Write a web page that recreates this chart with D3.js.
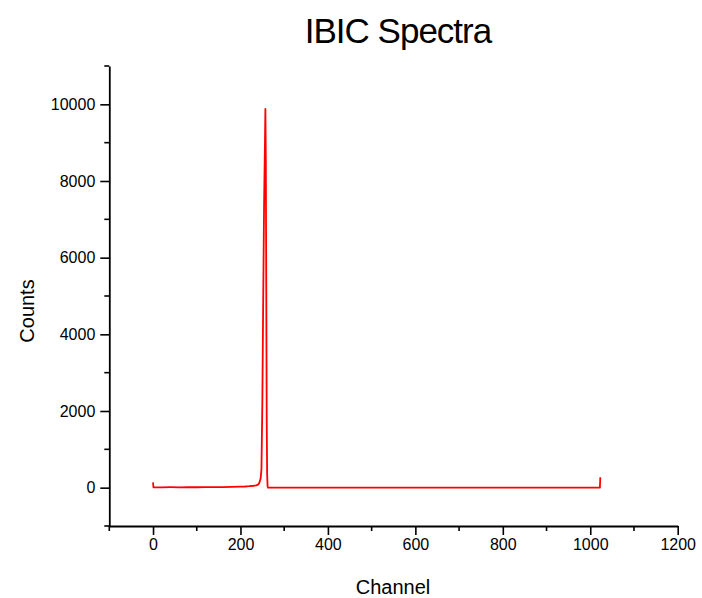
<!DOCTYPE html>
<html>
<head>
<meta charset="utf-8">
<script src="https://cdn.jsdelivr.net/npm/d3@7"></script>
<style>
  html, body { margin: 0; padding: 0; background: #fff; }
  svg { display: block; font-family: "Liberation Sans", Arial, sans-serif; }
</style>
</head>
<body>
<svg id="chart" width="702" height="598"></svg>
<script>
// IBIC spectrum: counts per channel (sparse samples along the 1024-channel range)
const channels = [0, 1, 20, 40, 60, 80, 100, 120, 140, 160, 180, 200, 210, 220, 230, 236, 240, 243, 246, 248,
                  250, 252, 254, 256, 257, 258, 259, 260, 261, 262, 263, 300, 400, 500, 600, 700, 800, 900, 1000, 1022, 1023];
const counts   = [140, 8, 10, 12, 9, 14, 11, 13, 15, 16, 20, 25, 30, 38, 50, 62, 80, 120, 230, 480,
                  2200, 4900, 7400, 9000, 9880, 8500, 5200, 1800, 350, 40, 0, 0, 0, 0, 0, 0, 0, 0, 0, 0, 270];

const xMajorTicks = [0, 200, 400, 600, 800, 1000, 1200];
const xMinorTicks = [-100, 100, 300, 500, 700, 900, 1100];
const yMajorTicks = [0, 2000, 4000, 6000, 8000, 10000];
const yMinorTicks = [-1000, 1000, 3000, 5000, 7000, 9000, 11000];

const titleText = "IBIC Spectra";
const xLabel = "Channel";
const yLabel = "Counts";

const svg = d3.select("#chart");

const x = d3.scaleLinear().domain([-100, 1200]).range([109.3, 677.7]);
const y = d3.scaleLinear().domain([-1000, 11000]).range([526, 66]);

const data = channels.map((c, i) => ({ c, v: counts[i] }));

// spectrum line
svg.append("path")
  .datum(data)
  .attr("fill", "none")
  .attr("stroke", "#ff0000")
  .attr("stroke-width", 1.8)
  .attr("stroke-linejoin", "round")
  .attr("d", d3.line().x(d => x(d.c)).y(d => y(d.v)));

// x axis
const xAxisG = svg.append("g").attr("transform", `translate(0,${y(-1000)})`);
xAxisG.call(d3.axisBottom(x).tickValues(xMajorTicks).tickSize(9).tickPadding(4).tickSizeOuter(0).tickFormat(d3.format("d")));
xAxisG.selectAll(".minor").data(xMinorTicks).enter().append("line")
  .attr("class", "minor").attr("x1", d => x(d)).attr("x2", d => x(d))
  .attr("y1", 0).attr("y2", 5).attr("stroke", "#000").attr("stroke-width", 1.6);

// y axis
const yAxisG = svg.append("g").attr("transform", `translate(${x(-100)},0)`);
yAxisG.call(d3.axisLeft(y).tickValues(yMajorTicks).tickSize(9).tickPadding(5).tickSizeOuter(0).tickFormat(d3.format("d")));
yAxisG.selectAll(".minor").data(yMinorTicks).enter().append("line")
  .attr("class", "minor").attr("y1", d => y(d)).attr("y2", d => y(d))
  .attr("x1", 0).attr("x2", -5).attr("stroke", "#000").attr("stroke-width", 1.6);

svg.selectAll(".domain").attr("stroke", "#000").attr("stroke-width", 1.8);
svg.selectAll(".tick line").attr("stroke", "#000").attr("stroke-width", 1.6);
svg.selectAll(".tick text")
  .attr("fill", "#000")
  .style("font-family", "'Liberation Sans', Arial, sans-serif")
  .style("font-size", "16px");

// title and axis labels
svg.append("text")
  .attr("x", 398).attr("y", 43)
  .attr("text-anchor", "middle")
  .style("font-size", "35px")
  .style("letter-spacing", "-1px")
  .attr("fill", "#000")
  .text(titleText);

svg.append("text")
  .attr("x", 393).attr("y", 594)
  .attr("text-anchor", "middle")
  .style("font-size", "20px")
  .attr("fill", "#000")
  .text(xLabel);

svg.append("text")
  .attr("transform", "translate(34,311) rotate(-90)")
  .attr("text-anchor", "middle")
  .style("font-size", "20px")
  .attr("fill", "#000")
  .text(yLabel);
</script>
</body>
</html>
